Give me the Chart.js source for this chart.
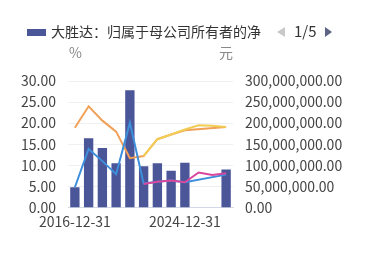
<!DOCTYPE html>
<html lang="zh">
<head>
<meta charset="UTF-8" />
<title>大胜达</title>
<script src="https://cdn.jsdelivr.net/npm/chart.js"></script>
<style>
  body { margin: 0; background: #fff; font-family: "Noto Sans CJK SC", sans-serif; }
  #wrap { position: relative; width: 369px; height: 276px; }
  canvas { position: absolute; left: 0; top: 0; }
  .leyenda { position: absolute; left: 27px; top: 21px; font-size: 14px; color: #333; white-space: nowrap; line-height: 20px; }
  .caja { display: inline-block; width: 19px; height: 7px; background: #4b5699; vertical-align: middle; margin-right: 5px; position: relative; top: -1px; }
  .pager { position: absolute; left: 277px; top: 20px; font-size: 15px; color: #333; line-height: 22px; white-space: nowrap; }
  .tri-l { display: inline-block; width: 0; height: 0; border-top: 5px solid transparent; border-bottom: 5px solid transparent; border-right: 8px solid #c8c8c8; margin-right: 9px; vertical-align: middle; position: relative; top: -1px; }
  .tri-r { display: inline-block; width: 0; height: 0; border-top: 5px solid transparent; border-bottom: 5px solid transparent; border-left: 7px solid #5d6383; margin-left: 8px; vertical-align: middle; position: relative; top: -1px; }
  .unidad { position: absolute; top: 42px; font-size: 14px; color: #888; }
</style>
</head>
<body>
<div id="wrap">
  <canvas id="grafica" width="369" height="276"></canvas>
  <div class="leyenda"><span class="caja"></span>大胜达：归属于母公司所有者的净</div>
  <div class="pager"><span class="tri-l"></span>1/5<span class="tri-r"></span></div>
  <div class="unidad" style="left:69px">%</div>
  <div class="unidad" style="left:219px">元</div>
</div>
<script>
  const fechas = ["2016-12-31", "2017-12-31", "2018-12-31", "2019-12-31", "2020-12-31", "2021-12-31",
    "2022-12-31", "2023-12-31", "2024-12-31", "2025-03-31", "2025-06-30", "2025-09-30"];

  // 元
  const beneficioNeto = [48000000, 164000000, 141000000, 105000000, 278000000, 98000000,
    105000000, 87000000, 106000000, null, null, 90000000];

  // %
  const serieNaranja = [18.9, 24.0, 20.6, 18.0, 11.7, 12.2, 16.2, 17.3, 18.3, null, null, 19.1];
  const serieAzul = [4.8, 13.9, 11.0, 7.9, 20.1, 5.7, 6.1, 6.4, 6.0, null, null, 7.8];
  const serieAmarilla = [null, null, null, null, null, 12.2, 16.2, 17.3, 18.5, 19.5, 19.4, 19.1];
  const serieRosa = [null, null, null, null, null, 5.6, 6.1, 6.4, 6.0, 8.3, 7.7, 8.1];

  const fuente = { family: "Noto Sans CJK SC", size: 14 };

  function linea(nombre, datos, color, orden) {
    return {
      type: "line",
      label: nombre,
      data: datos,
      borderColor: color,
      backgroundColor: color,
      borderWidth: 2,
      pointRadius: 0,
      tension: 0,
      spanGaps: true,
      yAxisID: "y",
      order: orden
    };
  }

  new Chart(document.getElementById("grafica"), {
    data: {
      labels: fechas,
      datasets: [
        {
          type: "bar",
          label: "大胜达：归属于母公司所有者的净利润",
          data: beneficioNeto,
          backgroundColor: "#4b5699",
          barPercentage: 0.68,
          categoryPercentage: 1,
          yAxisID: "y1",
          order: 5
        },
        linea("大胜达：销售毛利率", serieNaranja, "#f0a057", 4),
        linea("大胜达：净资产收益率", serieAzul, "#3d8fdb", 3),
        linea("大胜达：销售毛利率(TTM)", serieAmarilla, "#f2cd55", 2),
        linea("大胜达：净资产收益率(TTM)", serieRosa, "#d9469c", 1)
      ]
    },
    options: {
      responsive: false,
      animation: false,
      layout: { padding: { top: 81, left: 0, right: 0, bottom: 0 } },
      plugins: { legend: { display: false }, tooltip: { enabled: false } },
      scales: {
        x: {
          grid: { display: false, drawTicks: false },
          border: { color: "#d4d8e6" },
          afterFit: a => { a.height = 68.5; },
          ticks: {
            font: fuente, color: "#444", padding: 6, maxRotation: 0, autoSkip: false,
            callback: function (v, i) { return i % 8 === 0 ? this.getLabelForValue(v) : ""; }
          }
        },
        y: {
          position: "left",
          min: 0, max: 30,
          afterFit: a => { a.width = 68; },
          grid: { color: "#eef0f4", drawTicks: false },
          border: { display: false },
          ticks: { stepSize: 5, font: fuente, color: "#444", padding: 12, callback: v => v.toFixed(2) }
        },
        y1: {
          position: "right",
          min: 0, max: 300000000,
          afterFit: a => { a.width = 136; },
          grid: { display: false, drawTicks: false },
          border: { display: false },
          ticks: {
            stepSize: 50000000, font: fuente, color: "#444", padding: 12,
            callback: v => v.toLocaleString("en-US", { minimumFractionDigits: 2, maximumFractionDigits: 2 })
          }
        }
      }
    }
  });
</script>
</body>
</html>
